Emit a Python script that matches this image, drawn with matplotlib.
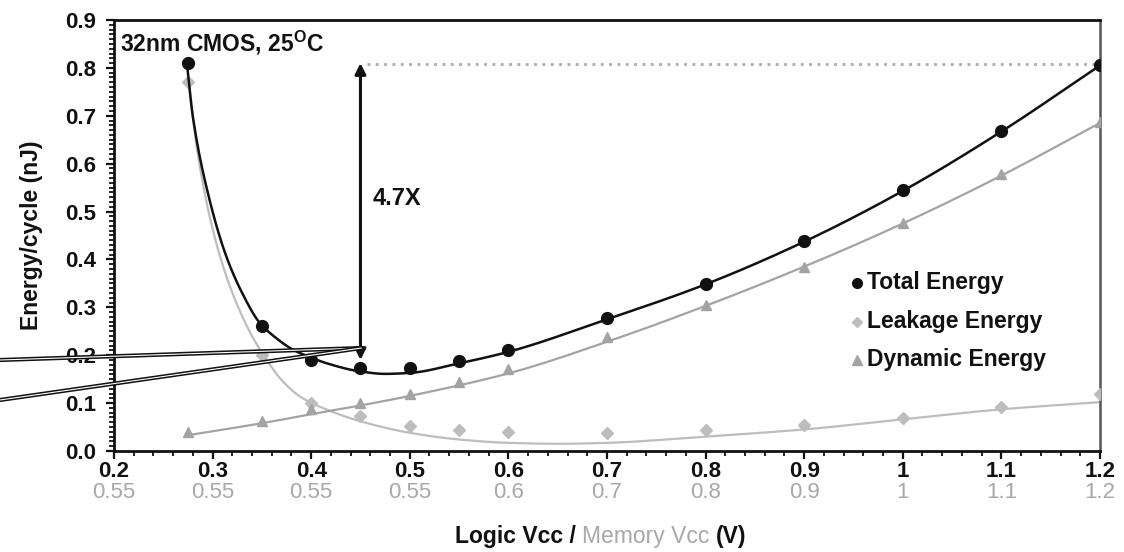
import numpy as np
import matplotlib
matplotlib.use("Agg")
import matplotlib.pyplot as plt

plt.rcParams['font.family'] = ['Liberation Sans', 'DejaVu Sans']
plt.rcParams['mathtext.fontset'] = 'custom'
plt.rcParams['mathtext.rm'] = 'Liberation Sans'
plt.rcParams['mathtext.bf'] = 'Liberation Sans:bold'

# ---------------- data ----------------
logic_vcc = [0.275, 0.35, 0.40, 0.45, 0.50, 0.55, 0.60, 0.70, 0.80, 0.90, 1.00, 1.10, 1.20]
total_energy = [0.81, 0.262, 0.19, 0.173, 0.173, 0.188, 0.211, 0.277, 0.349, 0.438, 0.545, 0.668, 0.806]
leakage_energy = [0.77, 0.20, 0.10, 0.074, 0.053, 0.044, 0.039, 0.037, 0.044, 0.054, 0.068, 0.091, 0.119]
dynamic_energy = [0.04, 0.062, 0.088, 0.10, 0.12, 0.145, 0.172, 0.238, 0.305, 0.385, 0.477, 0.578, 0.688]

# trend-line curves
total_fit_x = [0.274, 0.28, 0.297, 0.314, 0.33, 0.348, 0.365, 0.382, 0.40, 0.416, 0.45, 0.475, 0.50,
               0.55, 0.60, 0.70, 0.80, 0.90, 1.00, 1.10, 1.20]
total_fit_y = [0.809, 0.698, 0.524, 0.406, 0.33, 0.267, 0.235, 0.211, 0.195, 0.183, 0.166, 0.161, 0.163,
               0.183, 0.207, 0.275, 0.348, 0.437, 0.543, 0.667, 0.805]
leak_fit_x = [0.275, 0.285, 0.297, 0.31, 0.325, 0.34, 0.355, 0.37, 0.39, 0.42, 0.45, 0.50, 0.55,
              0.60, 0.65, 0.70, 0.80, 0.90, 1.00, 1.10, 1.20]
leak_fit_y = [0.78, 0.62, 0.49, 0.39, 0.305, 0.24, 0.19, 0.148, 0.112, 0.083, 0.062, 0.038, 0.024,
              0.017, 0.015, 0.017, 0.03, 0.045, 0.066, 0.087, 0.102]
dyn_fit_x = [0.275, 0.35, 0.40, 0.45, 0.50, 0.60, 0.70, 0.80, 0.90, 1.00, 1.10, 1.20]
dyn_fit_y = [0.033, 0.058, 0.077, 0.095, 0.115, 0.162, 0.228, 0.303, 0.385, 0.475, 0.575, 0.685]

x_ticks = [0.2, 0.3, 0.4, 0.5, 0.6, 0.7, 0.8, 0.9, 1.0, 1.1, 1.2]
logic_labels = ['0.2', '0.3', '0.4', '0.5', '0.6', '0.7', '0.8', '0.9', '1', '1.1', '1.2']
memory_labels = ['0.55', '0.55', '0.55', '0.55', '0.6', '0.7', '0.8', '0.9', '1', '1.1', '1.2']
y_ticks = [0.0, 0.1, 0.2, 0.3, 0.4, 0.5, 0.6, 0.7, 0.8, 0.9]
y_labels = ['0.0', '0.1', '0.2', '0.3', '0.4', '0.5', '0.6', '0.7', '0.8', '0.9']


def pchip(x, y, xn):
    x = np.asarray(x, float); y = np.asarray(y, float)
    h = np.diff(x); d = np.diff(y) / h
    m = np.zeros_like(y)
    for k in range(1, len(x) - 1):
        if d[k - 1] * d[k] <= 0:
            m[k] = 0.0
        else:
            w1 = 2 * h[k] + h[k - 1]; w2 = h[k] + 2 * h[k - 1]
            m[k] = (w1 + w2) / (w1 / d[k - 1] + w2 / d[k])
    m[0] = d[0]; m[-1] = d[-1]
    idx = np.clip(np.searchsorted(x, xn) - 1, 0, len(x) - 2)
    t = (xn - x[idx]) / h[idx]
    h00 = 2 * t**3 - 3 * t**2 + 1; h10 = t**3 - 2 * t**2 + t
    h01 = -2 * t**3 + 3 * t**2; h11 = t**3 - t**2
    return h00 * y[idx] + h10 * h[idx] * m[idx] + h01 * y[idx + 1] + h11 * h[idx] * m[idx + 1]


BLACK = '#111111'
LEAK = '#bdbdbd'
DYN = '#a3a3a3'
GRAYTXT = '#a8a8a8'
FS = 16

fig = plt.figure(figsize=(11.24, 5.52), dpi=100)
ax = fig.add_axes([0.1014, 0.183, 0.8772, 0.7808])
ax.set_xlim(0.2, 1.2)
ax.set_ylim(0.0, 0.9)

# curves
for fx, fy, col, lw, z in [(leak_fit_x, leak_fit_y, LEAK, 1.6, 2),
                           (dyn_fit_x, dyn_fit_y, DYN, 1.6, 2),
                           (total_fit_x, total_fit_y, BLACK, 1.8, 4)]:
    xs = np.linspace(fx[0], fx[-1], 600)
    ax.plot(xs, pchip(fx, fy, xs), color=col, lw=lw, zorder=z, solid_capstyle='round')

ax.plot(logic_vcc, leakage_energy, linestyle='none', marker='D', ms=6, color=LEAK, zorder=3)
ax.plot(logic_vcc, dynamic_energy, linestyle='none', marker='^', ms=7.5, color=DYN, zorder=3)
ax.plot(logic_vcc, total_energy, linestyle='none', marker='o', ms=8.5, color=BLACK, zorder=5)

# ticks
ax.set_xticks(x_ticks)
ax.set_xticklabels(logic_labels, fontsize=FS, fontweight='bold', color=BLACK)
ax.set_yticks(y_ticks)
ax.set_yticklabels(y_labels, fontsize=FS, fontweight='bold', color=BLACK)
ax.set_xticks(np.arange(0.2, 1.2001, 0.02), minor=True)
ax.set_yticks(np.arange(0.0, 0.9001, 0.01), minor=True)
ax.tick_params(axis='both', which='major', direction='out', length=6, width=1.6, color=BLACK)
ax.tick_params(axis='both', which='minor', direction='out', length=3.5, width=1.3, color=BLACK)
ax.tick_params(axis='y', which='major', pad=7)
ax.tick_params(axis='x', which='major', pad=1)

for s in ['left', 'bottom', 'top']:
    ax.spines[s].set_linewidth(2.0)
    ax.spines[s].set_color(BLACK)
ax.spines['right'].set_linewidth(1.8)
ax.spines['right'].set_color('#555555')

# second row of tick labels (memory Vcc)
trans = ax.get_xaxis_transform()
for xv, lab in zip(x_ticks, memory_labels):
    ax.text(xv, -0.0955, lab, transform=trans, ha='center', va='center',
            fontsize=FS, color=GRAYTXT, clip_on=False)

# axis labels
ax.set_ylabel('Energy/cycle (nJ)', fontsize=16.5, fontweight='bold', color=BLACK, labelpad=16)
t1 = fig.text(455 / 1124, 1 - 537 / 552, 'Logic Vcc / ', fontsize=16.5, fontweight='bold',
              color=BLACK, ha='left', va='center')
t2 = ax.annotate('Memory Vcc ', xycoords=t1, xy=(1, 0.5), va='center', ha='left',
                 fontsize=16.5, color=GRAYTXT, annotation_clip=False)
t3 = ax.annotate('(V)', xycoords=t2, xy=(1, 0.5), va='center', ha='left',
                 fontsize=16.5, fontweight='bold', color=BLACK, annotation_clip=False)

# annotations
ax.text(0.006, 0.947, r'32nm CMOS, 25$^{\mathbf{O}}$C', transform=ax.transAxes, ha='left',
        va='center', fontsize=16.5, fontweight='bold', color=BLACK)
ax.plot([0.457, 1.2], [0.808, 0.808], color='#aaaaaa', lw=2.0, linestyle=(0, (1, 2)), zorder=1)
ax.annotate('', xy=(0.45, 0.81), xytext=(0.45, 0.19),
            arrowprops=dict(arrowstyle='<|-|>', lw=2.2, color=BLACK, mutation_scale=16,
                            shrinkA=0, shrinkB=0), zorder=6)
ax.text(0.462, 0.528, '4.7X', fontsize=17, fontweight='bold', color=BLACK, ha='left', va='center')

# stray double-line callouts converging on the minimum
for start in [(0.0, 1 - 360 / 552), (0.0, 1 - 400 / 552)]:
    for lw, col in [(3.0, BLACK), (0.8, 'white')]:
        ax.annotate('', xy=(0.451, 0.215), xycoords='data', xytext=start,
                    textcoords='figure fraction', annotation_clip=False,
                    arrowprops=dict(arrowstyle='-', lw=lw, color=col, shrinkA=0, shrinkB=0),
                    zorder=7)

# legend (hand-placed)
leg_items = [('o', BLACK, 7, 'Total Energy'),
             ('D', LEAK, 5, 'Leakage Energy'),
             ('^', DYN, 6.5, 'Dynamic Energy')]
for i, (mk, col, ms, lab) in enumerate(leg_items):
    yy = [0.3898, 0.2993, 0.2111][i]
    ax.plot([0.7535], [yy], marker=mk, ms=ms, color=col, transform=ax.transAxes,
            linestyle='none', clip_on=False)
    ax.text(0.7635, yy, lab, transform=ax.transAxes, ha='left', va='center',
            fontsize=16.5, fontweight='bold', color=BLACK)

fig.savefig('out.png', dpi=100, facecolor='white')
